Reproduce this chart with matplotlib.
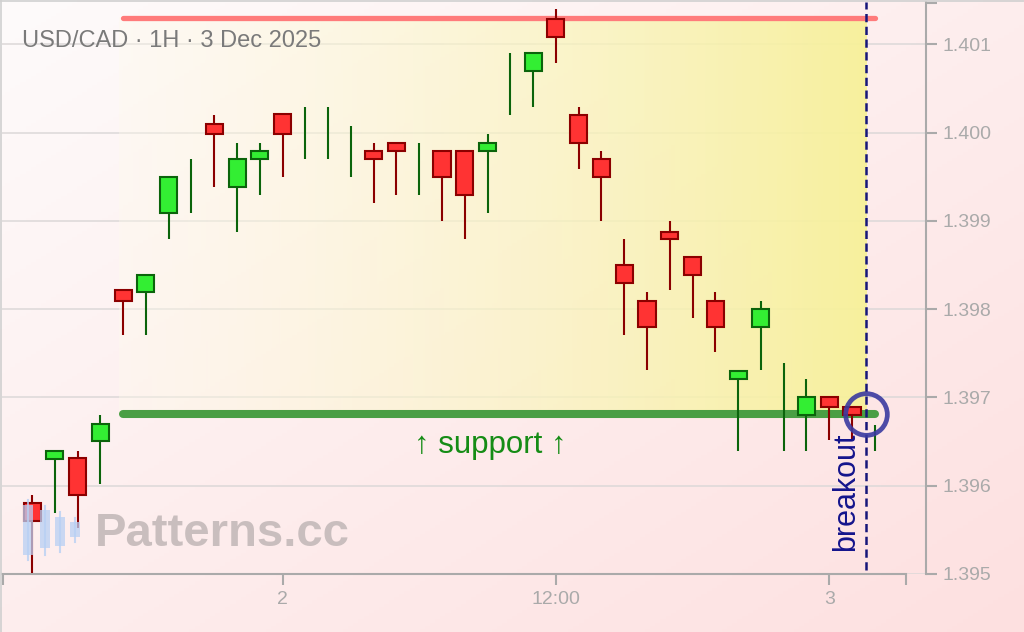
import numpy as np
import matplotlib
matplotlib.use('Agg')
import matplotlib.pyplot as plt
from matplotlib.patches import Rectangle
from matplotlib.lines import Line2D

plt.rcParams['font.family'] = ['Liberation Sans', 'DejaVu Sans']

# hourly candles, USD/CAD, 1 Dec 13:00 -> 3 Dec 02:00
opens = [1.39580, 1.39630, 1.39631, 1.39651, 1.39822, 1.39820, 1.39909, 1.39940,
         1.40010, 1.39938, 1.39970, 1.40021, 1.40000, 1.40000, 1.39980, 1.39979,
         1.39988, 1.39960, 1.39979, 1.39979, 1.39979, 1.40050, 1.40070, 1.40129,
         1.40020, 1.39970, 1.39850, 1.39809, 1.39888, 1.39859, 1.39809, 1.39721,
         1.39780, 1.39700, 1.39680, 1.39700, 1.39689, 1.39650]
highs = [1.39589, 1.39639, 1.39639, 1.39680, 1.39822, 1.39839, 1.39950, 1.39970,
         1.40020, 1.39988, 1.39988, 1.40021, 1.40029, 1.40029, 1.40008, 1.39988,
         1.39988, 1.39988, 1.39979, 1.39979, 1.39999, 1.40090, 1.40090, 1.40140,
         1.40029, 1.39979, 1.39879, 1.39820, 1.39900, 1.39859, 1.39820, 1.39730,
         1.39809, 1.39739, 1.39721, 1.39700, 1.39689, 1.39669]
lows = [1.39501, 1.39569, 1.39552, 1.39602, 1.39771, 1.39771, 1.39879, 1.39909,
        1.39938, 1.39888, 1.39929, 1.39950, 1.39970, 1.39970, 1.39950, 1.39920,
        1.39929, 1.39929, 1.39900, 1.39879, 1.39909, 1.40020, 1.40029, 1.40079,
        1.39959, 1.39900, 1.39771, 1.39731, 1.39822, 1.39790, 1.39751, 1.39639,
        1.39731, 1.39639, 1.39639, 1.39652, 1.39652, 1.39639]
closes = [1.39560, 1.39639, 1.39589, 1.39670, 1.39809, 1.39839, 1.39950, 1.39940,
          1.39999, 1.39970, 1.39979, 1.39999, 1.40000, 1.40000, 1.39980, 1.39970,
          1.39979, 1.39960, 1.39950, 1.39929, 1.39988, 1.40050, 1.40090, 1.40108,
          1.39988, 1.39950, 1.39830, 1.39780, 1.39879, 1.39839, 1.39780, 1.39730,
          1.39800, 1.39700, 1.39700, 1.39689, 1.39680, 1.39650]

x_ticks = [11, 23, 35]
x_tick_labels = ['2', '12:00', '3']
y_ticks = [1.395, 1.396, 1.397, 1.398, 1.399, 1.400, 1.401]

support = 1.39681
resistance = 1.40130
zone_start = 3.8
zone_end = 36.6
line_start = 4.0
line_end = 37.0
breakout_x = 36.6

X_MIN, X_MAX, X_AXIS_END = -1.32, 39.25, 38.37
Y_MIN, Y_MAX = 1.395, 1.40148

W, H = 1024, 632
fig = plt.figure(figsize=(W / 100, H / 100), dpi=100)

# pink diagonal background
bg = fig.add_axes([0, 0, 1, 1], zorder=-5)
gx, gy = np.meshgrid(np.linspace(0, 1, 200), np.linspace(0, 1, 200))
t = (gx + gy) / 2
c0 = np.array([254, 251, 251]) / 255
c1 = np.array([253, 224, 224]) / 255
img = c0[None, None, :] * (1 - t[..., None]) + c1[None, None, :] * t[..., None]
bg.imshow(img, extent=[0, 1, 0, 1], aspect='auto', origin='upper')
bg.axis('off')

ax = fig.add_axes([2 / W, (H - 574) / H, 924 / W, 572 / H])
ax.set_facecolor('none')
ax.set_xlim(X_MIN, X_MAX)
ax.set_ylim(Y_MIN, Y_MAX)

# yellow zone between support and resistance
gz = np.linspace(0, 1, 256)
zone = np.zeros((2, 256, 4))
zone[..., 0] = 1.0 - 0.03 * gz
zone[..., 1] = 0.985 - 0.04 * gz
zone[..., 2] = 0.93 - 0.33 * gz
zone[..., 3] = 0.38 + 0.57 * gz
ax.imshow(zone, extent=[zone_start, zone_end, support, resistance],
          aspect='auto', origin='lower', zorder=1, interpolation='bilinear')

ax.set_yticks(y_ticks)
ax.yaxis.grid(True, color='#dcd8d8', linewidth=1.1, zorder=0)
ax.set_axisbelow(True)

# candles
xs = np.arange(len(opens))
for i in xs:
    o, h, l, c = opens[i], highs[i], lows[i], closes[i]
    up = c >= o
    edge = '#0b640b' if up else '#8b0000'
    face = '#33ee33' if up else '#ff3333'
    ax.vlines(i, l, h, color=edge, linewidth=1.5, zorder=3)
    if abs(c - o) > 1e-7:
        ax.bar(i, abs(c - o), bottom=min(o, c), width=0.75, color=face,
               edgecolor=edge, linewidth=1.5, zorder=4)

ax.plot([line_start, line_end], [resistance, resistance], color='#ff7b7b',
        linewidth=3.8, solid_capstyle='round', zorder=2)
ax.plot([line_start, line_end], [support, support], color='#4a9e44',
        linewidth=5.8, solid_capstyle='round', zorder=2)

ax.axvline(breakout_x, ymin=0.007, ymax=1, color='#16167a', linewidth=1.8,
           dashes=(3.3, 1.8), zorder=5)
ax.plot([breakout_x], [support], marker='o', markersize=30, markerfacecolor='none',
        markeredgecolor='#3a3aa0', markeredgewidth=3.4, alpha=0.9, zorder=6)

ax.text(20.1, 1.39646, '↑ support ↑', color='#158c15', fontsize=22.5,
        ha='center', va='center', zorder=6)
ax.text(35.73, 1.39593, 'breakout', color='#14148c', fontsize=22,
        rotation=90, ha='center', va='center', zorder=6)

# axes styling
for s in ['top', 'left']:
    ax.spines[s].set_visible(False)
ax.spines['right'].set_color('#aaaaaa')
ax.spines['bottom'].set_color('#aaaaaa')
ax.spines['right'].set_linewidth(1.5)
ax.spines['bottom'].set_linewidth(1.5)
ax.spines['bottom'].set_bounds(X_MIN, X_AXIS_END)
ax.yaxis.tick_right()
ax.set_yticklabels(['%.3f' % v for v in y_ticks])
ax.set_xticks(x_ticks)
ax.set_xticklabels(x_tick_labels)
ax.set_xticks([X_MIN + 0.05, X_AXIS_END], minor=True)
ax.set_yticks([Y_MAX - 0.00001], minor=True)
ax.tick_params(axis='y', which='major', length=8, width=1.5, color='#aaaaaa',
               labelcolor='#aaaaaa', labelsize=14, pad=4)
ax.tick_params(axis='x', which='major', length=8, width=1.5, color='#aaaaaa',
               labelcolor='#aaaaaa', labelsize=14, pad=4)
ax.tick_params(which='minor', length=8, width=1.5, color='#aaaaaa')
ax.tick_params(axis='y', which='minor', right=True, left=False)

# title
fig.text(22 / W, 1 - 41 / H, 'USD/CAD · 1H · 3 Dec 2025', color='#7a7a7a',
         fontsize=17, ha='left', va='center')

# watermark logo + text
logo = [(28, 500, 560, 505, 555), (45, 506, 555, 510, 548),
        (60, 512, 552, 517, 546), (75, 518, 542, 522, 537)]
for lx, wt, wb, bt, bb in logo:
    fig.add_artist(Line2D([lx / W, lx / W], [1 - wt / H, 1 - wb / H], color='#b8d0f4',
                          linewidth=1.5, alpha=0.8, zorder=7))
    fig.add_artist(Rectangle(((lx - 5) / W, 1 - bb / H), 10 / W, (bb - bt) / H,
                             facecolor='#b8d0f4', edgecolor='none', alpha=0.75, zorder=7))
fig.text(95 / W, 1 - 534 / H, 'Patterns.cc', color='#bdb3b3', fontsize=34,
         fontweight='bold', ha='left', va='center', alpha=0.8, zorder=7)

# thin border top/left
fig.add_artist(Line2D([0, 1], [1 - 1 / H, 1 - 1 / H], color='#d0d0d0', linewidth=1.2))
fig.add_artist(Line2D([1 / W, 1 / W], [0, 1], color='#d0d0d0', linewidth=1.2))

fig.savefig('out.png', dpi=100)
